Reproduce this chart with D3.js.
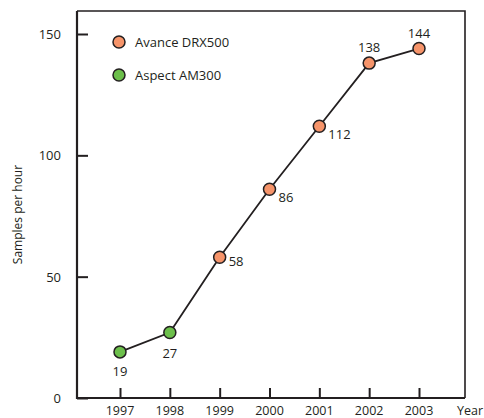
<!doctype html>
<html>
<head>
<meta charset="UTF-8">
<style>
  body { margin: 0; background: #fff; }
  svg text { font-family: "Open Sans", "Noto Sans", sans-serif; fill: #231f20; }
</style>
</head>
<body>
<svg width="484" height="418"></svg>
<script src="https://d3js.org/d3.v7.min.js"></script>
<script>
  // data
  const years = [1997, 1998, 1999, 2000, 2001, 2002, 2003];
  const samples = [19, 27, 58, 86, 112, 138, 144];
  const model = ["Aspect AM300", "Aspect AM300", "Avance DRX500", "Avance DRX500", "Avance DRX500", "Avance DRX500", "Avance DRX500"];
  const yTicks = [0, 50, 100, 150];
  const legendItems = ["Avance DRX500", "Aspect AM300"];

  const colors = { "Avance DRX500": "#f6946a", "Aspect AM300": "#6cbf4b" };
  // label offsets (dx, dy) relative to the point
  const labelPos = [[0, 20], [0, 22], [17, 5], [17, 9], [17, 9], [0, -15], [0, -15]];

  const svg = d3.select("svg");
  const mLeft = 77, mRight = 465, mTop = 11, mBottom = 398;

  const x = d3.scaleLinear().domain([1997, 2003]).range([120, 419]);
  const y = d3.scaleLinear().domain([0, 150]).range([mBottom, 34]);

  // frame
  svg.append("path")
    .attr("d", `M${mLeft},${mTop}H${mRight}V${mBottom}`)
    .attr("fill", "none").attr("stroke", "#231f20").attr("stroke-width", 1.6);
  svg.append("path")
    .attr("d", `M${mLeft},${mTop}V${mBottom}H${mRight}`)
    .attr("fill", "none").attr("stroke", "#231f20").attr("stroke-width", 2.2);

  // y axis ticks
  const yAxis = svg.append("g").attr("transform", `translate(${mLeft},0)`)
    .call(d3.axisRight(y).tickValues(yTicks).tickSize(11).tickFormat(""));
  yAxis.select(".domain").remove();
  yAxis.selectAll("line").attr("stroke", "#231f20").attr("stroke-width", 2);
  svg.selectAll(".ylab").data(yTicks).join("text")
    .attr("x", 61).attr("y", d => y(d) + 5)
    .attr("text-anchor", "end").attr("font-size", 13).text(d => d);

  // x axis ticks
  const xAxis = svg.append("g").attr("transform", `translate(0,${mBottom})`)
    .call(d3.axisTop(x).tickValues(years).tickSize(10).tickFormat(""));
  xAxis.select(".domain").remove();
  xAxis.selectAll("line").attr("stroke", "#231f20").attr("stroke-width", 2);
  svg.selectAll(".xlab").data(years).join("text")
    .attr("x", d => x(d)).attr("y", 415)
    .attr("text-anchor", "middle").attr("font-size", 12.5).text(d => d);
  svg.append("text").attr("x", 470).attr("y", 415)
    .attr("text-anchor", "middle").attr("font-size", 12.5).text("Year");

  svg.append("text")
    .attr("transform", `translate(22,${(mTop + mBottom) / 2 + 10}) rotate(-90)`)
    .attr("text-anchor", "middle").attr("font-size", 12).text("Samples per hour");

  // line
  const line = d3.line().x((d, i) => x(years[i])).y(d => y(d));
  svg.append("path").datum(samples)
    .attr("d", line).attr("fill", "none")
    .attr("stroke", "#231f20").attr("stroke-width", 1.8);

  // points
  svg.selectAll(".pt").data(samples).join("circle")
    .attr("cx", (d, i) => x(years[i])).attr("cy", d => y(d)).attr("r", 6)
    .attr("fill", (d, i) => colors[model[i]])
    .attr("stroke", "#231f20").attr("stroke-width", 1.5);

  svg.selectAll(".vl").data(samples).join("text")
    .attr("x", (d, i) => x(years[i]) + labelPos[i][0])
    .attr("y", (d, i) => y(d) + labelPos[i][1] + 4)
    .attr("text-anchor", (d, i) => labelPos[i][0] > 0 ? "start" : "middle")
    .attr("dx", (d, i) => labelPos[i][0] > 0 ? -8 : 0)
    .attr("font-size", 13).text(d => d);

  // legend
  const lg = svg.selectAll(".lg").data(legendItems).join("g")
    .attr("transform", (d, i) => `translate(119,${42 + i * 33})`);
  lg.append("circle").attr("r", 6)
    .attr("fill", d => colors[d]).attr("stroke", "#231f20").attr("stroke-width", 1.5);
  lg.append("text").attr("x", 16).attr("y", 5).attr("font-size", 13).text(d => d);
</script>
</body>
</html>
